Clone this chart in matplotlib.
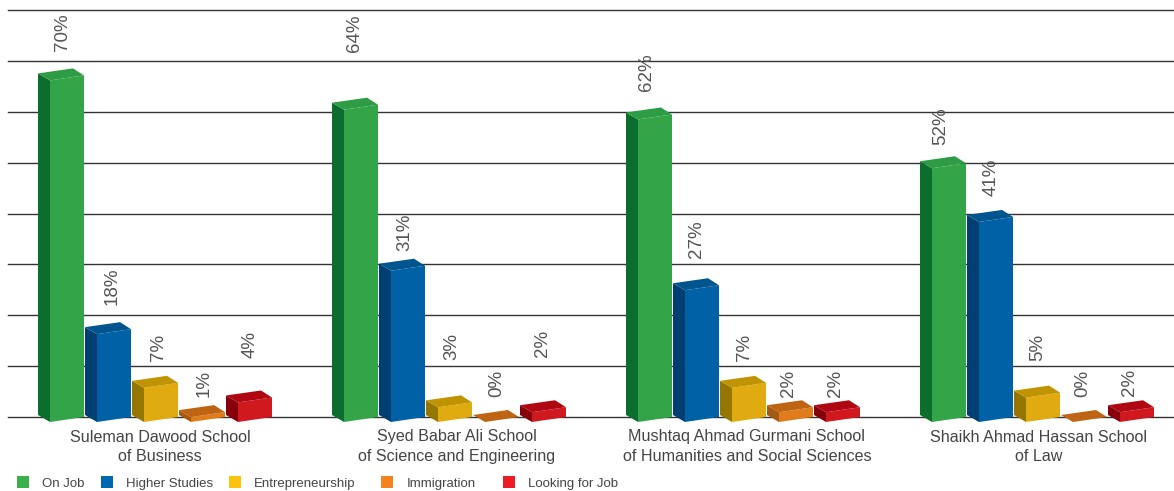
import matplotlib
matplotlib.use("Agg")
import matplotlib.pyplot as plt
from matplotlib.patches import Polygon, Rectangle

plt.rcParams['font.family'] = ['Liberation Sans', 'DejaVu Sans']

schools = ["Suleman Dawood School\nof Business",
           "Syed Babar Ali School\nof Science and Engineering",
           "Mushtaq Ahmad Gurmani School\nof Humanities and Social Sciences",
           "Shaikh Ahmad Hassan School\nof Law"]
series = ["On Job", "Higher Studies", "Entrepreneurship", "Immigration", "Looking for Job"]

on_job = [70, 64, 62, 52]
higher_studies = [18, 31, 27, 41]
entrepreneurship = [7, 3, 7, 5]
immigration = [1, 0, 2, 0]
looking_for_job = [4, 2, 2, 2]
values = [on_job, higher_studies, entrepreneurship, immigration, looking_for_job]

# gap between bar top and its label, hand placed in the original (px)
label_gaps = [[17, 46, 16, 11],
              [17, 8, 20, 14],
              [15, 35, 15, 25],
              [8, 13, 3, 13],
              [32, 43, 3, 4]]
label_shift = [2, 5, 5, 3, 2]
group_shift = [0, -1, -3, -3]
name_shift = [5, 8, 4, 2]

front = ["#33a548", "#0061a7", "#e0ab10", "#e07c1a", "#d0181f"]
side = ["#0b6e2e", "#003f72", "#957600", "#a45a10", "#85000a"]
top = ["#2e9c45", "#00558f", "#c09400", "#bf6412", "#b00813"]
legend_colors = ["#39b14a", "#0067b1", "#fdc20f", "#f58220", "#ed1c24"]
legend_box_x = [17, 101, 229, 381, 503]
legend_text_x = [42, 126, 254, 407, 528]

W, H = 1174, 491
fig = plt.figure(figsize=(W / 100, H / 100), dpi=100)
ax = fig.add_axes([8 / W, 1 - 417 / H, (W - 8) / W, 407 / H])

GROUP = 294.0   # px per school
PX_Y = 407 / 80  # px per percent on the grid
x0 = 38 - 8
ax.set_xlim(-x0 / GROUP, (W - 38) / GROUP)
ax.set_ylim(0, 80)

def dx(p):
    return p / GROUP

def dy(p):
    return p / PX_Y

for s in range(len(series)):
    for g in range(len(schools)):
        v = values[s][g]
        x = g + dx(47) * s
        h = dy(4.88 * v)
        base = dy(-5)    # front corner hangs below the baseline
        # corners: left edge, front-left, front-right, back-right
        xl, xf, xr, xb = x, x + dx(12), x + dx(46), x + dx(35)
        yl, yf, yr = base + dy(7), base, base + dy(5)
        ybk = yl + dy(5)
        ax.add_patch(Polygon([(xl, yl), (xf, yf), (xf, yf + h), (xl, yl + h)],
                             fc=side[s], ec="none", clip_on=False, zorder=3))
        ax.add_patch(Polygon([(xf, yf), (xr, yr), (xr, yr + h), (xf, yf + h)],
                             fc=front[s], ec="none", clip_on=False, zorder=3))
        ax.add_patch(Polygon([(xl, yl + h), (xf, yf + h), (xr, yr + h), (xb, ybk + h)],
                             fc=top[s], ec="none", clip_on=False, zorder=3))
        ax.annotate(f"{v}%", (x + dx(22 + label_shift[s] + group_shift[g]), ybk + h),
                    xytext=(0, label_gaps[s][g] * 0.72), textcoords="offset points",
                    rotation=90, ha="center", va="bottom", fontsize=13.5,
                    color="#555555", annotation_clip=False)

ax.set_yticks(range(0, 90, 10))
ax.yaxis.grid(True, color="#333333", lw=1, clip_on=False)
for line in ax.get_ygridlines():
    line.set_clip_on(False)
ax.set_axisbelow(True)
ax.tick_params(axis="y", length=0, labelleft=False)
ax.tick_params(axis="x", length=0, pad=9, labelsize=11.6, labelcolor="#444444")
ax.set_xticks([g + dx(117 + name_shift[g]) for g in range(len(schools))])
ax.set_xticklabels(schools, linespacing=1.4)
for sp in ax.spines.values():
    sp.set_visible(False)

for name, c, bx, tx in zip(series, legend_colors, legend_box_x, legend_text_x):
    fig.add_artist(Rectangle((bx / W, 1 - 488 / H), 12 / W, 12 / H,
                             transform=fig.transFigure, fc=c, ec="none"))
    fig.text(tx / W, 1 - 484 / H, name, fontsize=9.5, color="#444444", va="center")

fig.savefig("out.png", dpi=100)
